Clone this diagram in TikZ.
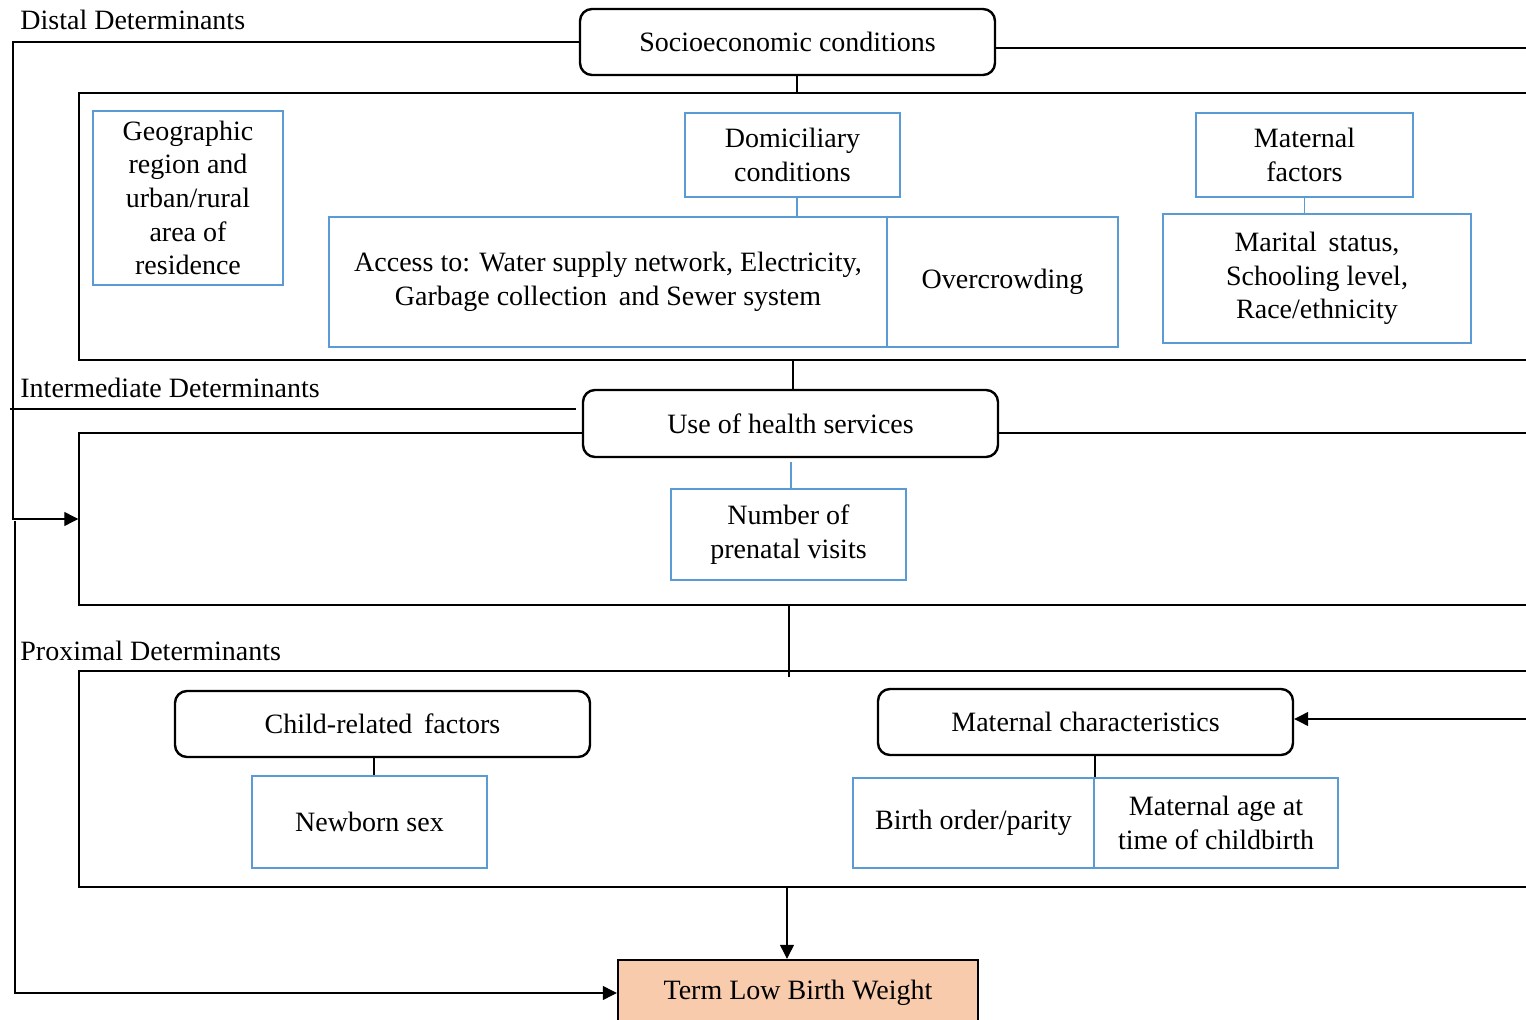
\documentclass[tikz,border=0pt]{standalone}
\usepackage{fontspec}
\setmainfont{Liberation Serif}
\usetikzlibrary{arrows.meta,fit}
\definecolor{hblue}{HTML}{5B9BD5}
\definecolor{peach}{HTML}{F8CBAD}
\begin{document}
\begin{tikzpicture}[x=0.5pt,y=-0.5pt,
  font=\fontsize{14}{16.8}\selectfont,
  every node/.style={inner sep=0pt, align=center},
  sz/.style 2 args={minimum width=#1, minimum height=#2},
  rbox/.style={draw, line width=1.2pt, rounded corners=6pt, fill=white, sz={207.5pt}{33pt}},
  bbox/.style={draw=hblue, line width=1pt, fill=white},
  frame/.style={draw, line width=0.7pt},
  link/.style={line width=0.6pt},
  blink/.style={draw=hblue, line width=0.6pt},
  arr/.style={link, -{Triangle[length=7pt,width=7pt]}},
  lbl/.style={anchor=west}]
\useasboundingbox (0,0) rectangle (1526,1020);
\clip (0,0) rectangle (1526,1020);

% level frames (open to the right)
\node[frame, fit={(79,93) (1560,360)}] (distal) {};
\node[frame, fit={(79,433) (1560,605)}] (inter) {};
\node[frame, fit={(79,671) (1560,887)}] (prox) {};

% level labels
\node[lbl] (dlab) at (20,20) {Distal Determinants};
\node[lbl] (ilab) at (20,388) {Intermediate Determinants};
\node[lbl] (plab) at (20,651) {Proximal Determinants};

% distal level
\node[rbox] (socio) at (787.5,42) {Socioeconomic conditions};
\node[bbox, sz={95pt}{87pt}] (geo) at (188,198) {Geographic\\region and\\urban/rural\\area of\\residence};
\node[bbox, sz={107.5pt}{42pt}] (dom) at (792.5,155) {Domiciliary\\conditions};
\node[bbox, sz={279pt}{65pt}] (access) at (608,282) {Access to: Water supply network, Electricity,\\Garbage collection\, and Sewer system};
\node[bbox, sz={115.5pt}{65pt}] (crowd) at (1002.5,282) {Overcrowding};
\node[bbox, sz={108.5pt}{42pt}] (matf) at (1304.5,155) {Maternal\\factors};
\node[bbox, sz={154pt}{64.5pt}] (marital) at (1317,278.5) {Marital\, status,\\Schooling level,\\Race/ethnicity};

% intermediate level
\node[rbox, sz={207.5pt}{33.5pt}] (use) at (790.5,423.5) {Use of health services};
\node[bbox, sz={117.5pt}{45.5pt}] (visits) at (788.5,534.5) {Number of\\prenatal visits};

% proximal level
\node[rbox] (child) at (382.5,724) {Child-related\, factors};
\node[bbox, sz={117.5pt}{46pt}] (newborn) at (369.5,822) {Newborn sex};
\node[rbox] (matc) at (1085.5,722) {Maternal characteristics};
\node[bbox, sz={120.5pt}{45pt}] (birth) at (973.5,823) {Birth order/parity};
\node[bbox, sz={122pt}{45pt}] (matage) at (1216,823) {Maternal age at\\time of childbirth};

% outcome
\node[draw, line width=1.2pt, fill=peach, sz={180pt}{33pt}] (tlbw) at (798,993) {Term Low Birth Weight};

% trunk positions and free line ends
\coordinate (t1) at (797,0);
\coordinate (t2) at (793,0);
\coordinate (t3) at (791,462);
\coordinate (t4) at (789,677);
\coordinate (t5) at (374,0);
\coordinate (t6) at (1095,0);
\coordinate (t7) at (787,0);
\coordinate (t8) at (13,519);
\coordinate (fb) at (15,521);
\coordinate (e1) at (1530,719);
\coordinate (e2) at (1530,48);
\coordinate (il) at (10,409);

% connectors
\draw[link] (socio.south -| t1) -- (distal.north -| t1);
\draw[blink] (dom.south -| t1) -- (access.north -| t1);
\draw[blink] (matf.south) -- (matf.south |- marital.north);
\draw[link] (distal.south -| t2) -- (use.north -| t2);
\draw[blink] (t3) -- (visits.north -| t3);
\draw[link] (inter.south -| t4) -- (t4);
\draw[link] (child.south -| t5) -- (newborn.north -| t5);
\draw[link] (matc.south -| t6) -- (birth.north -| t6);
\draw[arr] (prox.south -| t7) -- (tlbw.north -| t7);
\draw[arr] (e1) -- (matc.east |- e1);
\draw[link] (socio.east |- e2) -- (e2);
\draw[arr] (socio.west) -| (t8) -- (inter.west);
\draw[link, shorten >=3pt] (il) -- (use.west |- il);
\draw[arr] (fb) |- (tlbw.west);
\end{tikzpicture}
\end{document}
